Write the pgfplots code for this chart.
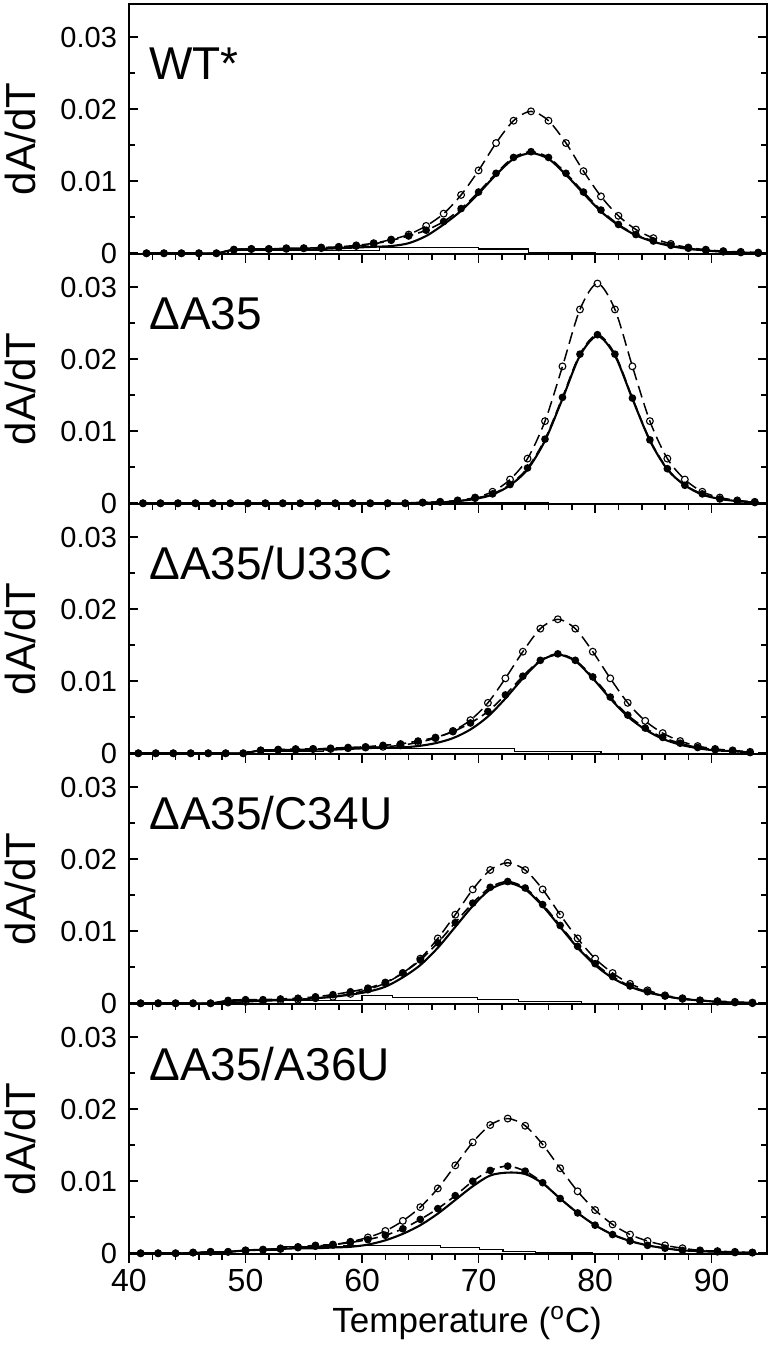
\documentclass[border=0pt]{standalone}
\usepackage{pgfplots}
\pgfplotsset{compat=1.18}
\usepackage{pgfplotstable}
\usepackage{fontspec}
\setmainfont{Liberation Sans}

\pgfplotstableread{
x A B C
41.5 0 0 0
43 0 0 0
44.5 0 0 0
46 0 0 0
47.5 0 0 0
49 0.0005 0.0005 0.0005
50.5 0.0005 0.0006 0.0006
52 0.0005 0.0006 0.0006
53.5 0.0005 0.0007 0.0006
55 0.0005 0.0007 0.0007
56.5 0.0006 0.0008 0.0007
58 0.0007 0.0009 0.0008
59.5 0.0008 0.0011 0.0010
61 0.0009 0.0014 0.0013
62.5 0.0010 0.0019 0.0018
64 0.0014 0.0026 0.0024
65.5 0.0024 0.0038 0.0032
67 0.0040 0.0055 0.0044
68.5 0.0059 0.0081 0.0062
70 0.0083 0.0115 0.0085
71.5 0.0109 0.0153 0.0111
73 0.0131 0.0184 0.0133
74.5 0.0139 0.0197 0.0141
76 0.0131 0.0184 0.0133
77.5 0.0109 0.0153 0.0111
79 0.0083 0.0114 0.0085
80.5 0.0058 0.0079 0.0060
82 0.0039 0.0052 0.0040
83.5 0.0025 0.0033 0.0026
85 0.0016 0.0021 0.0017
86.5 0.0010 0.0013 0.0011
88 0.0006 0.0008 0.0007
89.5 0.0004 0.0005 0.0004
91 0.0002 0.0003 0.0002
92.5 0.0001 0.0002 0.0001
94 0.0001 0.0001 0
}\tabA

\pgfplotstableread{
x A B C
41.2 0 0 0
42.7 0 0 0
44.2 0 0 0
45.7 0 0 0
47.2 0 0 0
48.7 0 0 0
50.2 0 0 0
51.7 0 0 0
53.2 0 0 0
54.7 0 0 0
56.2 0 0 0
57.7 0 0 0
59.2 0 0 0
60.7 0 0 0
62.2 0 0 0
63.7 0 0 0
65.2 0.0001 0.0001 0.0001
66.7 0.0001 0.0002 0.0002
68.2 0.0003 0.0004 0.0003
69.7 0.0006 0.0008 0.0007
71.2 0.0012 0.0016 0.0013
72.7 0.0025 0.0033 0.0026
74.2 0.0047 0.0062 0.0049
75.7 0.0087 0.0114 0.0089
77.2 0.0145 0.0190 0.0147
78.7 0.0205 0.0269 0.0207
80.2 0.0232 0.0305 0.0234
81.7 0.0205 0.0269 0.0207
83.2 0.0145 0.0190 0.0146
84.7 0.0087 0.0114 0.0088
86.2 0.0047 0.0062 0.0048
87.7 0.0025 0.0033 0.0025
89.2 0.0012 0.0016 0.0013
90.7 0.0006 0.0008 0.0006
92.2 0.0003 0.0004 0.0003
93.7 0.0001 0.0002 0.0001
}\tabB

\pgfplotstableread{
x A B C
40.8 0 0 0
42.3 0 0 0
43.8 0 0 0
45.3 0 0 0
46.8 0 0 0
48.3 0 0 0
49.8 0 0 0
51.3 0.0004 0.0004 0.0004
52.8 0.0004 0.0005 0.0005
54.3 0.0004 0.0005 0.0006
55.8 0.0005 0.0006 0.0006
57.3 0.0005 0.0006 0.0007
58.8 0.0006 0.0007 0.0008
60.3 0.0007 0.0008 0.0009
61.8 0.0008 0.0009 0.0011
63.3 0.0008 0.0011 0.0013
64.8 0.0010 0.0015 0.0017
66.3 0.0014 0.0021 0.0022
67.8 0.0021 0.0031 0.0030
69.3 0.0033 0.0046 0.0042
70.8 0.0051 0.0070 0.0058
72.3 0.0076 0.0104 0.0081
73.8 0.0104 0.0141 0.0107
75.3 0.0128 0.0173 0.0129
76.8 0.0137 0.0186 0.0138
78.3 0.0128 0.0173 0.0129
79.8 0.0104 0.0141 0.0106
81.3 0.0076 0.0104 0.0078
82.8 0.0051 0.0070 0.0053
84.3 0.0033 0.0045 0.0035
85.8 0.0020 0.0028 0.0022
87.3 0.0012 0.0017 0.0014
88.8 0.0007 0.0010 0.0008
90.3 0.0004 0.0006 0.0005
91.8 0.0003 0.0004 0.0003
93.3 0.0001 0.0002 0.0001
}\tabC

\pgfplotstableread{
x A B C
41 0 0 0
42.5 0 0 0
44 0 0 0
45.5 0 0 0
47 0 0 0
48.5 0.0003 0.0001 0.0004
50 0.0004 0.0002 0.0005
51.5 0.0004 0.0003 0.0005
53 0.0005 0.0004 0.0006
54.5 0.0005 0.0005 0.0007
56 0.0007 0.0007 0.0009
57.5 0.0009 0.0009 0.0012
59 0.0012 0.0013 0.0016
60.5 0.0016 0.0019 0.0021
62 0.0023 0.0028 0.0029
63.5 0.0036 0.0042 0.0042
65 0.0053 0.0062 0.0060
66.5 0.0077 0.0090 0.0084
68 0.0106 0.0123 0.0112
69.5 0.0135 0.0158 0.0139
71 0.0158 0.0185 0.0161
72.5 0.0167 0.0195 0.0169
74 0.0158 0.0185 0.0160
75.5 0.0135 0.0158 0.0137
77 0.0106 0.0123 0.0108
78.5 0.0077 0.0090 0.0079
80 0.0053 0.0062 0.0055
81.5 0.0035 0.0042 0.0037
83 0.0023 0.0027 0.0024
84.5 0.0015 0.0018 0.0016
86 0.0010 0.0011 0.0010
87.5 0.0006 0.0007 0.0006
89 0.0004 0.0004 0.0004
90.5 0.0002 0.0003 0.0002
92 0.0001 0.0002 0.0001
93.5 0.0001 0.0001 0
}\tabD

\pgfplotstableread{
x A B C
41 0 0 0
42.5 0 0 0
44 0 0 0
45.5 0 0.0001 0.0001
47 0.0001 0.0002 0.0002
48.5 0.0002 0.0002 0.0002
50 0.0004 0.0004 0.0004
51.5 0.0005 0.0005 0.0005
53 0.0006 0.0006 0.0007
54.5 0.0007 0.0008 0.0009
56 0.0007 0.0010 0.0011
57.5 0.0008 0.0012 0.0012
59 0.0009 0.0016 0.0015
60.5 0.0012 0.0022 0.0019
62 0.0018 0.0031 0.0025
63.5 0.0027 0.0045 0.0034
65 0.0039 0.0064 0.0047
66.5 0.0055 0.0090 0.0062
68 0.0074 0.0122 0.0080
69.5 0.0093 0.0154 0.0100
71 0.0108 0.0178 0.0115
72.5 0.0112 0.0187 0.0121
74 0.0110 0.0177 0.0114
75.5 0.0097 0.0151 0.0098
77 0.0076 0.0118 0.0076
78.5 0.0056 0.0086 0.0056
80 0.0039 0.0060 0.0039
81.5 0.0026 0.0040 0.0026
83 0.0017 0.0026 0.0017
84.5 0.0011 0.0017 0.0011
86 0.0007 0.0011 0.0007
87.5 0.0004 0.0007 0.0004
89 0.0003 0.0004 0.0003
90.5 0.0002 0.0003 0.0002
92 0.0001 0.0002 0.0001
93.5 0.0001 0.0001 0.0001
}\tabE

\tikzset{
  plab/.style={anchor=base west, font=\fontsize{23}{26}\selectfont, inner sep=0pt, xshift=10pt, yshift=-38pt},
}

\pgfplotsset{
  panel/.style={
    scale only axis, width=319pt, height=125pt,
    xmin=40, xmax=94.75, ymin=-0.0001, ymax=0.0346,
    axis line style={line width=0.9pt},
    tick align=inside,
    xtick={40,50,60,70,80,90}, minor x tick num=4,
    ytick={0,0.01,0.02,0.03}, yticklabels={0,0.01,0.02,0.03},
    minor ytick={0.005,0.015,0.025},
    scaled y ticks=false,
    xtick pos=left, ytick pos=both,
    major tick length=4.5pt, minor tick length=2.8pt,
    tick style={black, line width=0.8pt},
    major x tick style={yshift=-4.5pt},
    minor x tick style={yshift=-2.8pt},
    xticklabels={},
    yticklabel style={font=\fontsize{14.5}{16}\selectfont, xshift=-2.5pt},
    ylabel={dA/dT},
    ylabel style={font=\fontsize{21}{24}\selectfont, at={(axis description cs:-0.1693,0.46)}, anchor=center},
    /pgf/number format/assume math mode=true,
    clip=false,
  },
  lineA/.style={black, line width=1.05pt, smooth, no markers},
  lineB/.style={black, line width=0.75pt, smooth, dash pattern=on 6pt off 3pt,
     mark=o, mark size=1.7pt, mark options={solid, fill=white, line width=0.55pt}},
  lineC/.style={black, line width=0.8pt, smooth, dash pattern=on 5pt off 2.6pt,
     mark=*, mark size=1.5pt, mark options={solid, fill=black}},
  lineD/.style={black, line width=0.6pt, const plot, no markers},
}

\begin{document}
\begin{tikzpicture}
\path[use as bounding box] (-64.5pt,-48.5pt) rectangle (322pt,627pt);

% Panel 1: WT*
\begin{axis}[panel, at={(0,500pt)}, anchor=south west]
\addplot[lineD] coordinates {(40,0) (48.5,0.0004) (61.5,0.0008) (70,0.0006) (74.3,0.0001) (80,0) (94.75,0)};
\addplot[lineA] table[x=x,y=A] {\tabA};
\addplot[lineB] table[x=x,y=B] {\tabA};
\addplot[lineC] table[x=x,y=C] {\tabA};
\node[plab] at (rel axis cs:0,1) {WT*};
\end{axis}

% Panel 2: dA35
\begin{axis}[panel, at={(0,375pt)}, anchor=south west]
\addplot[lineD] coordinates {(40,0) (65,0.0001) (76,0) (94.75,0)};
\addplot[lineA] table[x=x,y=A] {\tabB};
\addplot[lineB] table[x=x,y=B] {\tabB};
\addplot[lineC] table[x=x,y=C] {\tabB};
\node[plab] at (rel axis cs:0,1) {ΔA35};
\end{axis}

% Panel 3
\begin{axis}[panel, at={(0,250pt)}, anchor=south west]
\addplot[lineD] coordinates {(40,0) (50.2,0.0002) (56.7,0.0007) (73.1,0.0002) (80.5,0) (94.75,0)};
\addplot[lineA] table[x=x,y=A] {\tabC};
\addplot[lineB] table[x=x,y=B] {\tabC};
\addplot[lineC] table[x=x,y=C] {\tabC};
\node[plab] at (rel axis cs:0,1) {ΔA35/U33C};
\end{axis}

% Panel 4
\begin{axis}[panel, at={(0,125pt)}, anchor=south west]
\addplot[lineD] coordinates {(40,0) (48.6,0.0004) (60,0.0011) (62.6,0.0008) (69.9,0.0005) (73.4,0.0002) (78.8,0) (94.75,0)};
\addplot[lineA] table[x=x,y=A] {\tabD};
\addplot[lineB] table[x=x,y=B] {\tabD};
\addplot[lineC] table[x=x,y=C] {\tabD};
\node[plab] at (rel axis cs:0,1) {ΔA35/C34U};
\end{axis}

% Panel 5
\begin{axis}[panel, at={(0,0pt)}, anchor=south west,
  xticklabels={40,50,60,70,80,90},
  xticklabel style={font=\fontsize{16}{18}\selectfont, yshift=-4pt},
  xlabel={Temperature (\textsuperscript{o}C)},
  xlabel style={font=\fontsize{17.5}{20}\selectfont, at={(axis description cs:0.53,-0.312)}, anchor=base}]
\addplot[lineD] coordinates {(40,0) (50,0.0004) (53,0.0009) (58.4,0.0011) (66.7,0.0008) (70.1,0.0005) (72.1,0.0002) (74.9,0.0001) (79.8,0) (94.75,0)};
\addplot[lineA] table[x=x,y=A] {\tabE};
\addplot[lineB] table[x=x,y=B] {\tabE};
\addplot[lineC] table[x=x,y=C] {\tabE};
\node[plab] at (rel axis cs:0,1) {ΔA35/A36U};
\end{axis}
\end{tikzpicture}
\end{document}
